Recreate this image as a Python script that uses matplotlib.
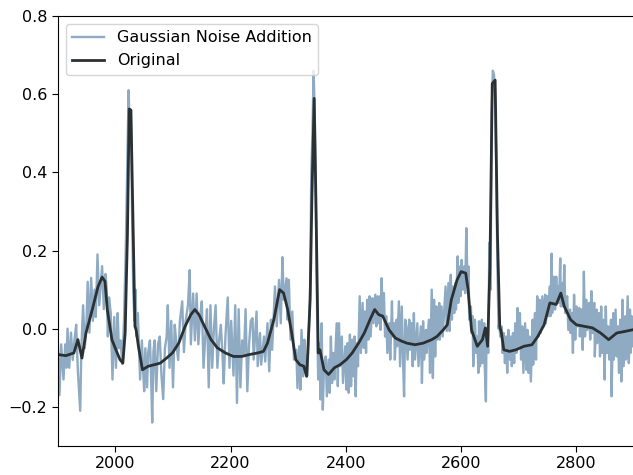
import matplotlib
matplotlib.use("Agg")
import matplotlib.pyplot as plt

# ---------------- data ----------------
# clean ECG trace (black)
orig_x = [1900, 1914, 1928, 1935, 1942, 1949, 1960, 1970, 1977, 1982, 1986, 1994,
          2001, 2008, 2013, 2017, 2021, 2024, 2027, 2031, 2034, 2036, 2040, 2047,
          2057, 2068, 2078, 2089, 2099, 2110, 2121, 2131, 2138, 2145, 2156, 2166,
          2177, 2191, 2205, 2219, 2233, 2247, 2257, 2264, 2275, 2285, 2292, 2299,
          2306, 2313, 2320, 2327, 2332, 2338, 2341, 2345, 2348, 2352, 2355, 2362,
          2370, 2380, 2390, 2401, 2411, 2422, 2432, 2443, 2450, 2457, 2464, 2475,
          2486, 2497, 2506, 2520, 2534, 2549, 2558, 2569, 2576, 2583, 2593, 2600,
          2608, 2612, 2618, 2628, 2637, 2642, 2646, 2650, 2654, 2659, 2663, 2667,
          2670, 2674, 2684, 2695, 2709, 2723, 2733, 2744, 2754, 2765, 2773, 2779,
          2790, 2800, 2814, 2828, 2842, 2856, 2870, 2884, 2897]
orig_y = [-0.066, -0.069, -0.062, -0.028, -0.075, -0.011, 0.049, 0.108, 0.132, 0.121, 0.049, -0.028,
          -0.054, -0.079, -0.088, -0.011, 0.244, 0.562, 0.559, 0.244, 0.006, -0.003, -0.045, -0.105,
          -0.096, -0.092, -0.088, -0.075, -0.062, -0.037, 0.006, 0.036, 0.049, 0.036, 0.002, -0.028,
          -0.049, -0.062, -0.071, -0.071, -0.066, -0.062, -0.058, -0.037, 0.023, 0.100, 0.091, 0.049,
          -0.011, -0.079, -0.092, -0.096, -0.122, 0.074, 0.330, 0.589, 0.330, -0.062, -0.054, -0.105,
          -0.117, -0.100, -0.092, -0.079, -0.062, -0.037, -0.011, 0.027, 0.049, 0.036, 0.032, -0.003,
          -0.024, -0.032, -0.037, -0.041, -0.037, -0.028, -0.020, -0.003, 0.010, 0.074, 0.125, 0.146,
          0.142, 0.100, -0.003, -0.045, -0.028, 0.002, -0.045, 0.159, 0.627, 0.636, 0.244, 0.006,
          -0.011, -0.054, -0.058, -0.054, -0.045, -0.041, -0.020, 0.010, 0.066, 0.062, 0.091, 0.057,
          0.023, 0.010, 0.006, 0.002, -0.011, -0.028, -0.011, -0.007, -0.003]

# noisy trace (blue), spike tips
noisy_x = [1900, 1903, 1906, 1910, 1913, 1915, 1917, 1920, 1923, 1926, 1929, 1932, 1935, 1939,
           1941, 1944, 1947, 1950, 1952, 1955, 1958, 1961, 1964, 1966, 1969, 1972, 1975, 1977,
           1980, 1983, 1985, 1987, 1989, 1992, 1995, 1998, 2001, 2004, 2006, 2009, 2012, 2015,
           2018, 2021, 2023, 2025, 2027, 2029, 2031, 2033, 2035, 2037, 2039, 2041, 2043, 2046,
           2048, 2050, 2052, 2055, 2057, 2060, 2062, 2064, 2066, 2068, 2071, 2074, 2077, 2080,
           2083, 2086, 2089, 2091, 2094, 2097, 2100, 2103, 2106, 2109, 2112, 2116, 2119, 2122,
           2126, 2129, 2131, 2135, 2138, 2141, 2144, 2147, 2150, 2153, 2156, 2159, 2162, 2165,
           2168, 2171, 2174, 2177, 2180, 2183, 2186, 2188, 2191, 2195, 2198, 2201, 2205, 2208,
           2211, 2214, 2217, 2220, 2223, 2226, 2229, 2232, 2235,
           2238, 2240, 2245, 2247, 2251, 2253, 2258, 2260, 2264, 2267, 2270, 2272, 2277, 2280,
           2284, 2287, 2290, 2292, 2297, 2299, 2301, 2304, 2307, 2310, 2314, 2316, 2319, 2321,
           2323, 2326, 2328, 2330, 2333, 2336, 2338, 2340, 2342, 2344, 2346, 2348, 2350, 2352,
           2354, 2356, 2358, 2360, 2362, 2365, 2367, 2370, 2372, 2374, 2376, 2378, 2380, 2384,
           2386, 2388, 2390, 2393, 2395, 2399, 2401, 2403, 2405, 2407, 2409, 2411, 2413, 2415,
           2417, 2419, 2421, 2424, 2426, 2429, 2431, 2433, 2435, 2437, 2439, 2441, 2443, 2446,
           2448, 2451, 2453, 2455, 2456, 2459, 2460, 2462, 2464, 2466, 2468, 2470, 2472, 2475,
           2477, 2480, 2481, 2484, 2485, 2488, 2489, 2492, 2494, 2497, 2499, 2501, 2503, 2505,
           2507, 2510, 2511, 2514, 2516, 2518, 2520, 2524, 2526, 2530, 2532, 2534, 2536, 2539,
           2540, 2544, 2546, 2549, 2551, 2553, 2555, 2557, 2559, 2562, 2563, 2566, 2568, 2573,
           2575, 2578, 2580,
           2582, 2584, 2586, 2588, 2590, 2591, 2594, 2595, 2598, 2599, 2601, 2603, 2605, 2607,
           2609, 2611, 2613, 2614, 2617, 2618, 2620, 2621, 2624, 2626, 2628, 2630, 2631, 2633,
           2636, 2637, 2640, 2641, 2643, 2644, 2646, 2647, 2649, 2651, 2653, 2655, 2657, 2659,
           2661, 2663, 2665, 2666, 2668, 2670, 2672, 2674, 2676, 2678, 2680, 2682, 2684, 2686,
           2688, 2690, 2692, 2694, 2696, 2698, 2700, 2702, 2704, 2706, 2708, 2711, 2713, 2715,
           2717, 2719, 2721, 2724, 2725, 2728, 2730, 2732, 2734, 2736, 2738, 2741, 2743, 2746,
           2747, 2750, 2751, 2754, 2755, 2757, 2758, 2761, 2763, 2765, 2767, 2769, 2770, 2772,
           2773, 2776, 2777, 2779, 2781, 2784, 2786, 2789, 2790, 2792, 2794, 2796, 2798, 2800,
           2802, 2805, 2806, 2809, 2811, 2813, 2815, 2817, 2819, 2822, 2824, 2826, 2828, 2831,
           2832, 2835, 2836, 2839, 2841, 2843, 2845, 2847, 2849, 2851, 2853, 2855, 2857, 2860,
           2861, 2864, 2865, 2868, 2870, 2872, 2874, 2876, 2878, 2880, 2882, 2885, 2886, 2889,
           2891, 2893, 2894, 2896, 2898]
noisy_y = [-0.03, -0.17, -0.04, -0.13, -0.04, -0.10, 0.00, -0.10, -0.01, -0.08, -0.03, 0.01, -0.11, -0.21,
           -0.05, 0.06, -0.05, 0.02, 0.12, -0.01, 0.13, 0.02, 0.10, 0.03, 0.19, 0.06, 0.12, 0.16,
           0.05, 0.14, 0.10, -0.02, 0.08, 0.04, -0.13, 0.03, -0.10, 0.04, -0.05, -0.03, -0.09, 0.02,
           0.20, 0.45, 0.61, 0.50, 0.56, 0.30, 0.10, 0.02, 0.10, -0.02, 0.04, -0.05, -0.13, -0.03,
           -0.10, -0.16, -0.05, -0.15, -0.06, -0.03, -0.12, -0.24, -0.06, -0.03, -0.16, -0.04, -0.02, -0.12,
           -0.18, -0.05, -0.02, 0.06, -0.10, 0.02, -0.15, 0.01, -0.04, -0.08, 0.02, 0.07, -0.06, 0.02,
           0.06, 0.15, -0.04, 0.09, -0.03, 0.09, -0.04, 0.03, 0.07, -0.10, -0.02, 0.05, -0.15, 0.06,
           -0.10, 0.00, 0.06, -0.10, -0.03, 0.01, -0.07, -0.14, -0.02, 0.08, -0.10, 0.02, -0.12, 0.06,
           -0.19, 0.05, -0.15, -0.03, -0.07, 0.05, -0.16, -0.04, 0.02,
           0.027, -0.079, 0.044, -0.096, -0.011, -0.092, -0.020, -0.084, 0.014, -0.109, 0.023, -0.054, 0.108, 0.006,
           0.125, 0.014, 0.183, 0.074, 0.129, 0.023, 0.125, -0.028, 0.044, -0.079, -0.054, -0.152, -0.045, -0.156,
           -0.003, -0.122, -0.028, -0.109, -0.12, 0.00, 0.10, 0.40, 0.50, 0.66, 0.55, 0.30, 0.05, -0.130,
           -0.037, -0.181, 0.014, -0.207, -0.096, -0.071, -0.173, -0.079, -0.164, -0.020, -0.139, -0.062, -0.130, 0.014,
           -0.147, 0.014, -0.096, -0.020, -0.139, -0.045, -0.156, -0.037, -0.164, -0.015, -0.147, -0.028, -0.122, -0.020,
           -0.173, -0.037, -0.096, 0.083, -0.062, 0.066, -0.049, 0.044, -0.062, 0.074, -0.028, 0.083, -0.020, 0.078,
           0.014, 0.087, 0.006, 0.083, 0.014, 0.083, -0.003, 0.129, 0.032, 0.091, -0.020, 0.032, -0.062, 0.014,
           -0.079, 0.070, -0.020, 0.014, -0.079, 0.023, -0.045, 0.070, -0.096, 0.057, -0.071, -0.173, 0.023, 0.006,
           -0.079, 0.023, -0.054, 0.014, -0.096, 0.040, -0.079, 0.014, -0.096, 0.006, -0.139, 0.019, -0.079, -0.003,
           -0.062, 0.023, -0.113, 0.100, -0.126, 0.074, -0.071, 0.057, -0.028, 0.066, -0.028, 0.057, -0.020, 0.108,
           -0.006, 0.117, -0.006,
           0.138, 0.023, 0.108, 0.040, 0.117, 0.049, 0.185, 0.066, 0.159, 0.083, 0.176, 0.100, 0.159, 0.091,
           0.257, 0.117, 0.159, 0.023, 0.057, -0.011, 0.032, -0.096, 0.023, -0.062, -0.020, -0.113, 0.019, -0.096,
           0.023, -0.088, 0.014, -0.096, -0.186, -0.020, -0.028, -0.062, 0.22, 0.10, 0.55, 0.66, 0.65, 0.60,
           0.40, 0.15, 0.00, 0.014, -0.020, 0.006, -0.062, -0.011, -0.088, -0.020, -0.113, -0.003, -0.079, -0.020,
           -0.096, -0.011, -0.088, 0.014, -0.062, 0.053, -0.045, 0.040, -0.079, 0.006, -0.113, 0.014, -0.105, -0.003,
           -0.113, -0.020, -0.135, 0.023, -0.092, 0.040, -0.079, 0.083, -0.020, 0.074, -0.011, 0.083, 0.006, 0.087,
           0.014, 0.083, 0.032, 0.108, 0.032, 0.192, 0.040, 0.133, 0.049, 0.133, 0.074, 0.108, 0.066, 0.180,
           0.057, 0.117, 0.057, 0.163, 0.040, 0.083, -0.003, 0.049, -0.011, 0.040, -0.062, 0.087, -0.028, 0.057,
           0.006, 0.053, -0.020, 0.049, -0.054, 0.146, -0.020, 0.074, -0.003, 0.066, -0.028, 0.096, -0.011, 0.066,
           -0.071, 0.049, -0.037, 0.040, -0.071, 0.057, -0.062, 0.023, -0.130, 0.057, -0.062, 0.006, -0.079, 0.023,
           -0.173, 0.040, -0.079, 0.049, -0.071, 0.006, -0.113, 0.023, -0.135, 0.074, -0.096, 0.032, -0.079, 0.083,
           -0.088, 0.049, -0.062, 0.032, -0.045]

# ---------------- plot ----------------
plt.rcParams["font.size"] = 11.5
plt.rcParams["xtick.major.size"] = 4
plt.rcParams["ytick.major.size"] = 4

fig = plt.figure(figsize=(6.33, 4.75), dpi=100)
ax = fig.add_axes([0.0912, 0.0611, 0.9104, 0.9053])

ax.plot(noisy_x, noisy_y, color="#8eabc3", linewidth=1.7, label="Gaussian Noise Addition")
ax.plot(orig_x, orig_y, color="#2b3033", linewidth=2.0, label="Original")

ax.set_xlim(1900, 2900)
ax.set_ylim(-0.3, 0.8)
ax.set_xticks([2000, 2200, 2400, 2600, 2800])
ax.set_yticks([-0.2, 0.0, 0.2, 0.4, 0.6, 0.8])
ax.spines["right"].set_visible(False)
ax.legend(loc="upper left")

fig.savefig("out.png", dpi=100)
